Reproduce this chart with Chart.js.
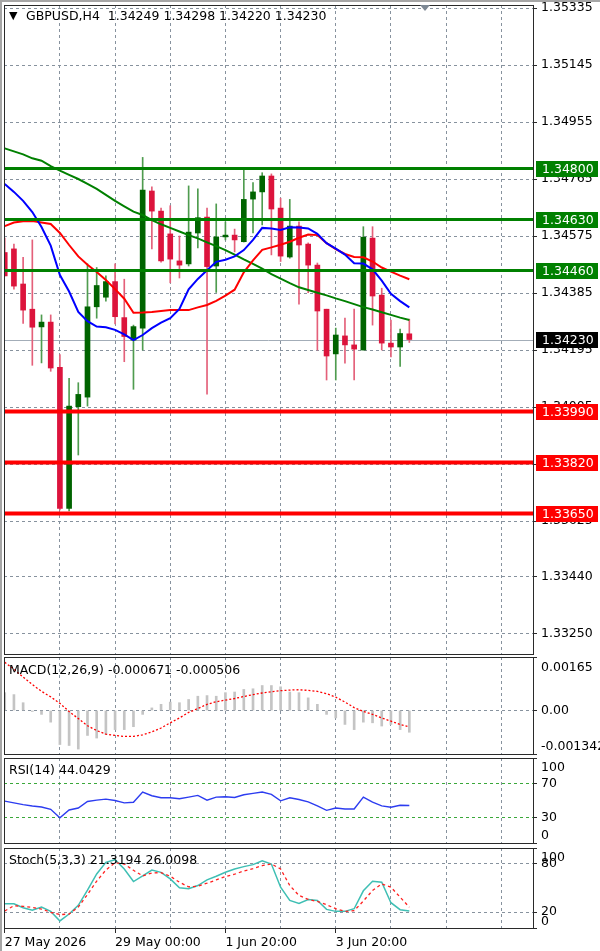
<!DOCTYPE html>
<html>
<head>
<meta charset="utf-8">
<script src="https://cdn.jsdelivr.net/npm/chart.js@4.4.1/dist/chart.umd.min.js"></script>
<style>
  html, body { margin: 0; padding: 0; background: #fff; }
  #wrap { position: relative; width: 600px; height: 951px; overflow: hidden; background: #fff; font-family: "DejaVu Sans", sans-serif; }
  canvas { position: absolute; left: 0; }
  .lbl { position: absolute; left: 9px; font-size: 12.5px; line-height: 15px; color: #000; white-space: pre; z-index: 2; }
  .edge { position: absolute; background: #a6a6a6; z-index: 3; }
</style>
</head>
<body>
<div id="wrap">
  <canvas id="price" width="600" height="656" style="top:0px"></canvas>
  <canvas id="macd" width="600" height="100" style="top:656px"></canvas>
  <canvas id="rsi" width="600" height="90" style="top:756px"></canvas>
  <canvas id="stoch" width="600" height="105" style="top:846px"></canvas>
  <div class="lbl" style="top:8px;left:9px;font-size:11px">▼</div>
  <div class="lbl" id="tPrice" style="top:8px;left:26px"></div>
  <div class="lbl" id="tMacd" style="top:662px"></div>
  <div class="lbl" id="tRsi" style="top:762px"></div>
  <div class="lbl" id="tStoch" style="top:852px"></div>
  <div class="edge" style="left:0;top:0;width:600px;height:2px"></div>
  <div class="edge" style="left:0;top:0;width:2px;height:951px"></div>
</div>
<script>
// GBPUSD H4 candles, oldest first
const opens  = [1.34520, 1.34532, 1.34415, 1.34331, 1.34272, 1.34288, 1.34137, 1.33667, 1.34006, 1.34038,
                1.34339, 1.34371, 1.34423, 1.34303, 1.34228, 1.34268, 1.34725, 1.34658, 1.34582, 1.34492,
                1.34482, 1.34585, 1.34638, 1.34475, 1.34572, 1.34578, 1.34556, 1.34698, 1.34722, 1.34775,
                1.34668, 1.34505, 1.34608, 1.34548, 1.34478, 1.34331, 1.34182, 1.34242, 1.34212, 1.34195,
                1.34568, 1.34378, 1.34218, 1.34205, 1.34249];
const highs  = [1.34568, 1.34548, 1.34504, 1.34562, 1.34312, 1.34312, 1.34180, 1.34101, 1.34086, 1.34482,
                1.34470, 1.34442, 1.34482, 1.34431, 1.34278, 1.34837, 1.34739, 1.34668, 1.34676, 1.34575,
                1.34742, 1.34732, 1.34668, 1.34682, 1.34622, 1.34598, 1.34795, 1.34753, 1.34786, 1.34782,
                1.34701, 1.34697, 1.34622, 1.34552, 1.34485, 1.34331, 1.34268, 1.34301, 1.34331, 1.34606,
                1.34606, 1.34401, 1.34295, 1.34265, 1.34298];
const lows   = [1.34442, 1.34398, 1.34284, 1.34144, 1.34152, 1.34124, 1.33662, 1.33659, 1.33845, 1.34008,
                1.34301, 1.34358, 1.34282, 1.34156, 1.34064, 1.34195, 1.34532, 1.34488, 1.34419, 1.34435,
                1.34475, 1.34535, 1.34048, 1.34387, 1.34562, 1.34522, 1.34555, 1.34585, 1.34612, 1.34512,
                1.34490, 1.34501, 1.34348, 1.34386, 1.34195, 1.34095, 1.34095, 1.34151, 1.34095, 1.34195,
                1.34278, 1.34195, 1.34172, 1.34140, 1.34220];
const closes = [1.34442, 1.34408, 1.34328, 1.34271, 1.34288, 1.34135, 1.33667, 1.34008, 1.34047, 1.34339,
                1.34410, 1.34423, 1.34306, 1.34240, 1.34273, 1.34728, 1.34658, 1.34492, 1.34498, 1.34478,
                1.34588, 1.34636, 1.34473, 1.34572, 1.34578, 1.34562, 1.34697, 1.34722, 1.34775, 1.34665,
                1.34508, 1.34608, 1.34545, 1.34478, 1.34325, 1.34175, 1.34245, 1.34212, 1.34198, 1.34571,
                1.34375, 1.34218, 1.34205, 1.34250, 1.34230];

// moving averages
const maFast = [1.34748, 1.34722, 1.34692, 1.34655, 1.34605, 1.34543, 1.34445, 1.34390, 1.34322, 1.34291,
                1.34273, 1.34271, 1.34262, 1.34247, 1.34228, 1.34245, 1.34268, 1.34286, 1.34301, 1.34332,
                1.34397, 1.34432, 1.34461, 1.34489, 1.34496, 1.34507, 1.34528, 1.34562, 1.34602, 1.34600,
                1.34595, 1.34604, 1.34603, 1.34600, 1.34582, 1.34551, 1.34533, 1.34513, 1.34484, 1.34483,
                1.34464, 1.34426, 1.34382, 1.34358, 1.34337];
const maMid  = [1.34608, 1.34620, 1.34624, 1.34625, 1.34620, 1.34615, 1.34585, 1.34545, 1.34507, 1.34479,
                1.34455, 1.34428, 1.34398, 1.34366, 1.34319, 1.34320, 1.34322, 1.34325, 1.34328, 1.34328,
                1.34328, 1.34337, 1.34345, 1.34359, 1.34376, 1.34396, 1.34454, 1.34494, 1.34529, 1.34537,
                1.34546, 1.34556, 1.34569, 1.34580, 1.34578, 1.34551, 1.34531, 1.34515, 1.34505, 1.34504,
                1.34490, 1.34470, 1.34456, 1.34443, 1.34431];
const maSlow = [1.34867, 1.34857, 1.34847, 1.34834, 1.34826, 1.34808, 1.34793, 1.34779, 1.34765, 1.34749,
                1.34732, 1.34712, 1.34692, 1.34674, 1.34656, 1.34645, 1.34628, 1.34614, 1.34602, 1.34590,
                1.34578, 1.34567, 1.34554, 1.34541, 1.34528, 1.34513, 1.34497, 1.34482, 1.34466, 1.34448,
                1.34433, 1.34418, 1.34404, 1.34395, 1.34386, 1.34377, 1.34367, 1.34358, 1.34348, 1.34338,
                1.34330, 1.34321, 1.34312, 1.34303, 1.34295];

// horizontal levels
const resistance = [1.34800, 1.34630, 1.34460];
const support    = [1.33990, 1.33820, 1.33650];
const lastPrice  = 1.34230;

// indicators
const macdHist   = [0.00055, 0.00049, 0.00024, -0.00003, -0.00012, -0.00036, -0.00105, -0.00108, -0.00119, -0.00077,
                    -0.00085, -0.00074, -0.00059, -0.00059, -0.00050, -0.00012, 0.00008, 0.00019, 0.00026, 0.00024,
                    0.00034, 0.00044, 0.00046, 0.00044, 0.00055, 0.00057, 0.00065, 0.00067, 0.00077, 0.00077,
                    0.00073, 0.00057, 0.00055, 0.00039, 0.00019, -0.00012, -0.00023, -0.00043, -0.00059, -0.00036,
                    -0.00038, -0.00048, -0.00043, -0.00059, -0.000671];
const macdSignal = [0.00149, 0.00127, 0.00103, 0.00080, 0.00059, 0.00042, 0.00022, -0.00003, -0.00025, -0.00047,
                    -0.00062, -0.00073, -0.00077, -0.00080, -0.00080, -0.00075, -0.00066, -0.00054, -0.00038, -0.00023,
                    -0.00006, 0.00006, 0.00019, 0.00027, 0.00032, 0.00037, 0.00043, 0.00049, 0.00054, 0.00058,
                    0.00061, 0.00063, 0.00064, 0.00062, 0.00059, 0.00052, 0.00041, 0.00026, 0.00009, -0.00003,
                    -0.00012, -0.00023, -0.00033, -0.00043, -0.000506];
const rsi        = [49.2, 47.2, 45.2, 43.6, 42.4, 39.6, 29.6, 38.8, 41.2, 48.8,
                    50.4, 51.6, 50.0, 47.2, 48.0, 60.0, 55.6, 53.2, 53.2, 52.0,
                    54.0, 56.0, 50.4, 54.0, 54.4, 53.6, 56.8, 58.4, 60.0, 57.2,
                    49.6, 53.2, 51.2, 48.4, 43.6, 38.4, 41.2, 40.0, 40.0, 54.0,
                    48.0, 43.6, 42.0, 44.4, 44.0429];
const stochMain  = [30.3, 30.3, 25.4, 22.1, 26.2, 20.8, 8.8, 17.5, 28.3, 47.3,
                    67.6, 82.1, 85.4, 73.8, 58.1, 65.1, 72.5, 69.6, 61.4, 50.2,
                    49.0, 53.1, 60.1, 64.7, 69.6, 73.8, 76.7, 79.2, 84.1, 80.0,
                    51.0, 34.5, 30.8, 35.7, 34.5, 23.3, 20.8, 20.8, 24.1, 46.5,
                    58.5, 57.2, 31.6, 22.9, 21.3194];
const stochSignal = [21.2, 27.9, 27.0, 25.8, 23.7, 19.6, 16.7, 17.5, 26.2, 41.9,
                     58.5, 72.5, 81.6, 80.0, 72.1, 65.1, 68.8, 69.2, 64.7, 57.2,
                     51.4, 52.3, 56.0, 60.1, 64.3, 67.2, 71.3, 74.2, 77.9, 80.0,
                     73.8, 53.1, 40.7, 35.7, 33.2, 29.1, 24.1, 20.8, 21.7, 33.7,
                     46.9, 55.2, 51.0, 38.6, 26.0098];

// axis ticks
const priceTicks = [1.35335, 1.35145, 1.34955, 1.34765, 1.34575, 1.34385, 1.34195, 1.34005, 1.33815, 1.33625, 1.33440, 1.33250];
const priceTickText = ['1.35335', '1.35145', '1.34955', '1.34765', '1.34575', '1.34385', '1.34195', '1.34005', '1.33815', '1.33625', '1.33440', '1.33250'];
const macdTicks = [0.00165, 0, -0.001342];
const macdTickText = ['0.00165', '0.00', '-0.001342'];
const rsiTicks = [100, 70, 30, 0];
const rsiTickText = ['100', '70', '30', '0'];
const stochTicks = [100, 80, 20, 0];
const stochTickText = ['100', '80', '20', '0'];
const xGrid = [0, 6, 12, 18, 24, 30, 36, 42, 48, 54];
const xLabelIdx = [0, 12, 24, 36];
const xLabelText = ['27 May 2026', '29 May 00:00', '1 Jun 20:00', '3 Jun 20:00'];

const FONT = '"DejaVu Sans", sans-serif';
const GRID = 'rgb(135,146,158)';
const FRAME = '#2a2a2a';
const BULL = '#006400', BEAR = '#dc143c';
const BULL_WICK = '#4f9c4f', BEAR_WICK = '#e4607a';
const last = closes.length - 1;

Chart.defaults.font.family = FONT;
Chart.defaults.font.size = 12.5;
Chart.defaults.color = '#000';

const f5 = v => v.toFixed(5);
document.getElementById('tPrice').textContent = 'GBPUSD,H4  ' + [opens[last], highs[last], lows[last], closes[last]].map(f5).join(' ');
document.getElementById('tMacd').textContent = 'MACD(12,26,9) ' + macdHist[last].toFixed(6) + ' ' + macdSignal[last].toFixed(6);
document.getElementById('tRsi').textContent = 'RSI(14) ' + rsi[last].toFixed(4);
document.getElementById('tStoch').textContent = 'Stoch(5,3,3) ' + stochMain[last].toFixed(4) + ' ' + stochSignal[last].toFixed(4);

const pts = arr => arr.map((v, i) => ({ x: i, y: v }));

function xAxis(withLabels) {
  return {
    type: 'linear', min: -0.08, max: 57.45, offset: false,
    afterBuildTicks: s => { s.ticks = xGrid.map(v => ({ value: v })); },
    afterFit: s => { s.height = withLabels ? 23 : 0; s.paddingLeft = 0; s.paddingRight = 0; },
    grid: {
      offset: false,
      color: c => (c.tick && c.tick.value === 0) ? 'rgba(0,0,0,0)' : GRID,
      drawTicks: withLabels, tickLength: 5, tickBorderDash: [],
      tickColor: c => (c.tick && xLabelIdx.includes(c.tick.value)) ? FRAME : 'rgba(0,0,0,0)'
    },
    border: { display: false, dash: [3, 3] },
    ticks: {
      display: withLabels, autoSkip: false, maxRotation: 0, minRotation: 0, align: 'start', padding: 2,
      callback: v => { const k = xLabelIdx.indexOf(v); return k < 0 ? '' : xLabelText[k]; }
    }
  };
}

function yAxis(min, max, vals, texts, gridColor, topLH, botLH) {
  return {
    position: 'right', min: min, max: max, beginAtZero: false,
    afterBuildTicks: s => { s.ticks = vals.map(v => ({ value: v })); },
    afterFit: s => { s.width = 67; s.paddingTop = 0; s.paddingBottom = 0; },
    grid: { color: gridColor, drawTicks: true, tickLength: 4, tickColor: FRAME, tickBorderDash: [] },
    border: { display: false, dash: [3, 3] },
    ticks: {
      autoSkip: false, padding: 4,
      font: c => {
        const v = c.tick ? c.tick.value : null;
        let lh = 1.2;
        if (topLH && v === max) lh = topLH + 'px';
        if (botLH && v === min) lh = botLH + 'px';
        return { family: FONT, size: 12.5, lineHeight: lh };
      },
      callback: (v, i) => {
        const t = texts[i];
        if (topLH && v === max) return ['', t];
        if (botLH && v === min) return [t, ''];
        return t;
      }
    }
  };
}

const framePlugin = {
  id: 'frame',
  afterDraw(chart) {
    const { ctx, chartArea: a } = chart;
    ctx.save();
    ctx.strokeStyle = FRAME; ctx.lineWidth = 1;
    ctx.strokeRect(Math.round(a.left) + 0.5, Math.round(a.top) + 0.5, Math.round(a.right - a.left), Math.round(a.bottom - a.top));
    ctx.restore();
  }
};

function hline(ctx, a, y, color, w) {
  ctx.strokeStyle = color; ctx.lineWidth = w;
  ctx.beginPath(); ctx.moveTo(a.left, y); ctx.lineTo(a.right, y); ctx.stroke();
}
function tag(ctx, a, y, text, bg) {
  const yy = Math.round(y);
  ctx.fillStyle = bg;
  ctx.fillRect(a.right + 3, yy - 8, 62, 16);
  ctx.fillStyle = '#fff';
  ctx.font = '12.5px ' + FONT; ctx.textAlign = 'left'; ctx.textBaseline = 'middle';
  ctx.fillText(text, a.right + 9, yy + 0.5);
}

const levelPlugin = {
  id: 'levels',
  beforeDatasetsDraw(chart) {
    const { ctx, chartArea: a } = chart;
    ctx.save();
    hline(ctx, a, Math.round(chart.scales.y.getPixelForValue(lastPrice)) + 0.5, '#a3adb8', 1);
    ctx.restore();
  },
  afterDatasetsDraw(chart) {
    const { ctx, chartArea: a } = chart;
    const y = chart.scales.y;
    ctx.save();
    ctx.beginPath(); ctx.rect(a.left, a.top, a.right - a.left, a.bottom - a.top); ctx.clip();
    resistance.forEach(v => hline(ctx, a, y.getPixelForValue(v), '#008000', 3));
    support.forEach(v => hline(ctx, a, y.getPixelForValue(v), '#ff0000', 4));
    ctx.restore();
  },
  afterDraw(chart) {
    const { ctx, chartArea: a } = chart;
    const y = chart.scales.y;
    ctx.save();
    resistance.forEach(v => tag(ctx, a, y.getPixelForValue(v), f5(v), '#008000'));
    support.forEach(v => tag(ctx, a, y.getPixelForValue(v), f5(v), '#ff0000'));
    tag(ctx, a, y.getPixelForValue(lastPrice), f5(lastPrice), '#000000');
    // chart shift marker
    const mx = a.right - 108;
    ctx.fillStyle = '#7d8894';
    ctx.beginPath(); ctx.moveTo(mx - 5, a.top); ctx.lineTo(mx + 5, a.top); ctx.lineTo(mx, a.top + 6); ctx.closePath(); ctx.fill();
    ctx.restore();
  }
};

const baseOpts = (pad) => ({
  responsive: false, animation: false, events: [],
  layout: { padding: pad },
  plugins: { legend: { display: false }, tooltip: { enabled: false }, title: { display: false } }
});

// main price chart
new Chart(document.getElementById('price'), {
  type: 'bar',
  data: {
    datasets: [
      { type: 'bar', data: lows.map((l, i) => ({ x: i, y: [l, highs[i]] })),
        backgroundColor: closes.map((c, i) => c >= opens[i] ? BULL_WICK : BEAR_WICK),
        barThickness: 1, grouped: false, borderWidth: 0, order: 5 },
      { type: 'bar', data: opens.map((o, i) => ({ x: i, y: [o, closes[i]] })),
        backgroundColor: closes.map((c, i) => c >= opens[i] ? BULL : BEAR),
        barThickness: 5, grouped: false, borderWidth: 0, order: 4 },
      { type: 'line', data: pts(maSlow), borderColor: '#008000', borderWidth: 2, pointRadius: 0, tension: 0, order: 3 },
      { type: 'line', data: pts(maMid), borderColor: '#ff0000', borderWidth: 2, pointRadius: 0, tension: 0, order: 2 },
      { type: 'line', data: pts(maFast), borderColor: '#0000ff', borderWidth: 2, pointRadius: 0, tension: 0, order: 1 }
    ]
  },
  options: Object.assign(baseOpts({ left: 4, right: 0, top: 5, bottom: 2 }), {
    scales: {
      x: xAxis(false),
      y: yAxis(1.331817, 1.35345, priceTicks, priceTickText, GRID, 0, 0)
    }
  }),
  plugins: [framePlugin, levelPlugin]
});

// MACD
new Chart(document.getElementById('macd'), {
  type: 'bar',
  data: {
    datasets: [
      { type: 'bar', data: pts(macdHist), backgroundColor: '#c4c4c4', barThickness: 2, borderWidth: 0, grouped: false, order: 2 },
      { type: 'line', data: pts(macdSignal), borderColor: '#ff0000', borderWidth: 1.3, borderDash: [2, 2], pointRadius: 0, tension: 0, order: 1 }
    ]
  },
  options: Object.assign(baseOpts({ left: 4, right: 0, top: 1, bottom: 2 }), {
    scales: {
      x: xAxis(false),
      y: yAxis(-0.001342, 0.00165, macdTicks, macdTickText, c => (c.tick && c.tick.value === 0) ? GRID : 'rgba(0,0,0,0)', 22, 14)
    }
  }),
  plugins: [framePlugin]
});

// RSI
new Chart(document.getElementById('rsi'), {
  type: 'line',
  data: {
    datasets: [
      { data: pts(rsi), borderColor: '#2c3cf0', borderWidth: 1.4, pointRadius: 0, tension: 0 }
    ]
  },
  options: Object.assign(baseOpts({ left: 4, right: 0, top: 2, bottom: 3 }), {
    scales: {
      x: xAxis(false),
      y: yAxis(0, 100, rsiTicks, rsiTickText, c => (c.tick && (c.tick.value === 70 || c.tick.value === 30)) ? '#3aa83a' : 'rgba(0,0,0,0)', 20, 14)
    }
  }),
  plugins: [framePlugin]
});

// Stochastic
new Chart(document.getElementById('stoch'), {
  type: 'line',
  data: {
    datasets: [
      { data: pts(stochSignal), borderColor: '#ff2020', borderWidth: 1.3, borderDash: [3, 3], pointRadius: 0, tension: 0 },
      { data: pts(stochMain), borderColor: '#3fbfb4', borderWidth: 1.5, pointRadius: 0, tension: 0 }
    ]
  },
  options: Object.assign(baseOpts({ left: 4, right: 0, top: 2, bottom: 0 }), {
    scales: {
      x: xAxis(true),
      y: yAxis(0, 100, stochTicks, stochTickText, c => (c.tick && (c.tick.value === 80 || c.tick.value === 20)) ? GRID : 'rgba(0,0,0,0)', 20, 12)
    }
  }),
  plugins: [framePlugin]
});
</script>
</body>
</html>
